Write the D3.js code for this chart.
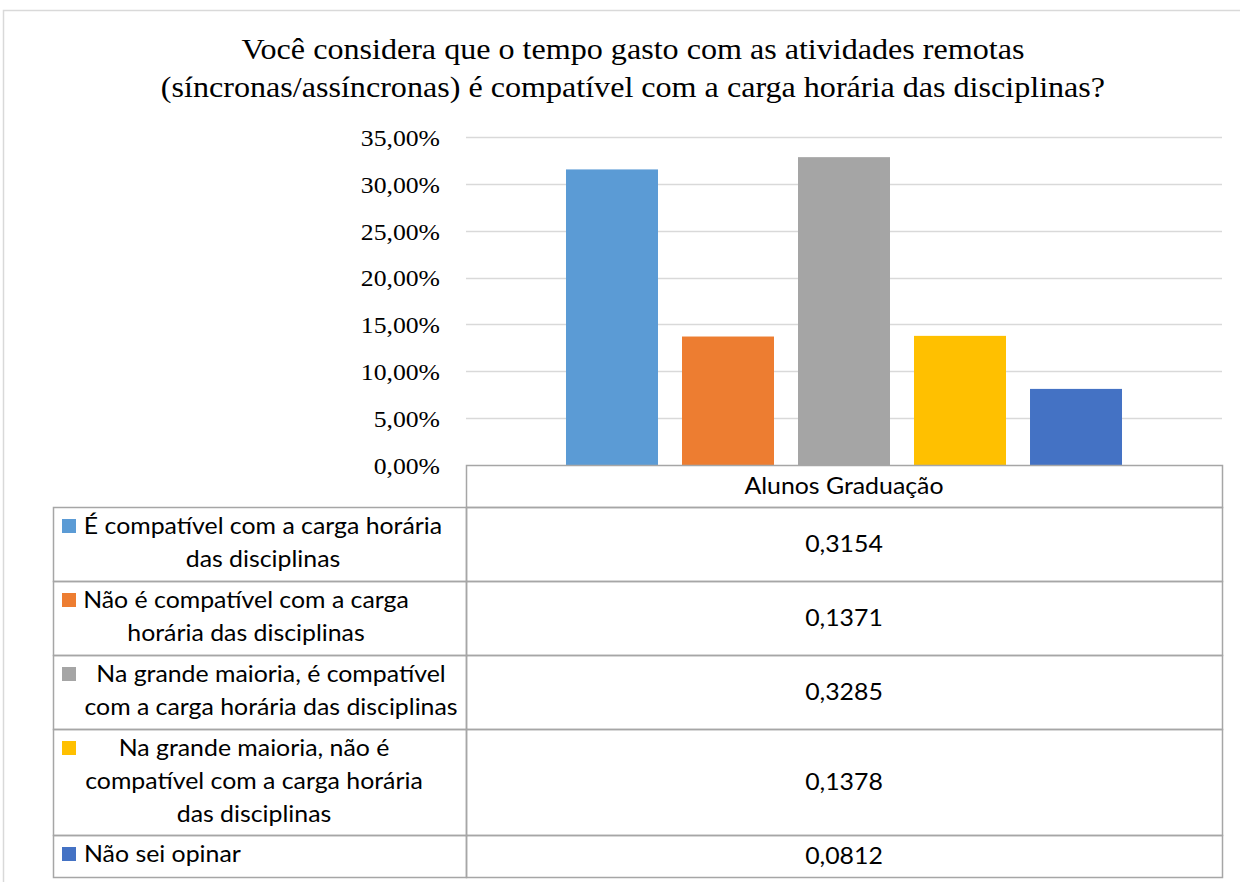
<!DOCTYPE html>
<html><head><meta charset="utf-8">
<script src="https://cdn.jsdelivr.net/npm/d3@7"></script>
<style>html,body{margin:0;padding:0;background:#fff;}</style>
</head><body>
<script>
// ---- data ----
const titleLines = ["Você considera que o tempo gasto com as atividades remotas",
                    "(síncronas/assíncronas) é compatível com a carga horária das disciplinas?"];
const seriesGroup = "Alunos Graduação";
const categories = [
  "É compatível com a carga horária das disciplinas",
  "Não é compatível com a carga horária das disciplinas",
  "Na grande maioria, é compatível com a carga horária das disciplinas",
  "Na grande maioria, não é compatível com a carga horária das disciplinas",
  "Não sei opinar"
];
const categoryLines = [
  ["É compatível com a carga horária", "das disciplinas"],
  ["Não é compatível com a carga", "horária das disciplinas"],
  ["Na grande maioria, é compatível", "com a carga horária das disciplinas"],
  ["Na grande maioria, não é", "compatível com a carga horária", "das disciplinas"],
  ["Não sei opinar"]
];
const values = [0.3154, 0.1371, 0.3285, 0.1378, 0.0812];
const valueLabels = ["0,3154", "0,1371", "0,3285", "0,1378", "0,0812"];
const yTicks = [0, 0.05, 0.10, 0.15, 0.20, 0.25, 0.30, 0.35];
const colors = ["#5B9BD5", "#ED7D31", "#A5A5A5", "#FFC000", "#4472C4"];

// ---- layout ----
const W = 1240, H = 882;
const plotL = 466, plotR = 1222, plotT = 137, plotB = 465;
const legL = 53;
const headerH = 42;
const lineCenters = [263, 246, 271, 254, null];
const stretchK = 1.08;

function stretch(sel, k) {
  sel.each(function() {
    const L = this.getComputedTextLength();
    this.setAttribute("textLength", L * k);
    this.setAttribute("lengthAdjust", "spacingAndGlyphs");
  });
}

const svg = d3.select("body").append("svg").attr("width", W).attr("height", H);

svg.append("rect").attr("x", 3.5).attr("y", 10.5).attr("width", 1300).attr("height", 1000)
  .attr("fill", "none").attr("stroke", "#D9D9D9").attr("stroke-width", 1.5);

const serif = "'Liberation Serif', 'Times New Roman', serif";
const sans = "Lato, 'Noto Sans', sans-serif";

svg.selectAll("text.title").data(titleLines).join("text")
  .attr("class", "title")
  .attr("x", 633).attr("y", (d, i) => 59 + i * 38)
  .attr("text-anchor", "middle")
  .attr("font-family", serif).attr("font-size", 30).attr("fill", "#000")
  .text(d => d)
  .call(stretch, 1.07);

const x = d3.scaleBand().domain(categories).range([plotL, plotR]).paddingInner(0.207).paddingOuter(0.862);
const y = d3.scaleLinear().domain([0, 0.35]).range([plotB, plotT]);

// gridlines
svg.append("g").selectAll("line").data(yTicks.filter(t => t > 0)).join("line")
  .attr("x1", plotL).attr("x2", plotR)
  .attr("y1", d => Math.round(y(d)) + 0.5).attr("y2", d => Math.round(y(d)) + 0.5)
  .attr("stroke", "#D9D9D9").attr("stroke-width", 1.5);

// y axis
const fmt = v => (v * 100).toFixed(2).replace(".", ",") + "%";
const yAxis = d3.axisLeft(y).tickValues(yTicks).tickFormat(fmt).tickSize(0).tickPadding(0);
const gy = svg.append("g").attr("transform", `translate(${440},0)`).call(yAxis);
gy.select(".domain").remove();
gy.selectAll("text").attr("font-family", serif).attr("font-size", 24).attr("fill", "#000").attr("dy", "0.35em")
  .call(stretch, 1.07);

// bars
svg.append("g").selectAll("rect").data(values).join("rect")
  .attr("x", (d, i) => x(categories[i]))
  .attr("width", x.bandwidth())
  .attr("y", d => y(d))
  .attr("height", d => y(0) - y(d))
  .attr("fill", (d, i) => colors[i]);

// table
const rowHeights = categoryLines.map(l => 10 + l.length * 32);
const rowTops = [];
let acc = plotB + headerH;
rowHeights.forEach(h => { rowTops.push(acc); acc += h; });
const border = "#A6A6A6";
const fs = 23;
const t = svg.append("g");
t.append("rect").attr("x", plotL + 0.5).attr("y", plotB + 0.5).attr("width", plotR - plotL).attr("height", headerH)
  .attr("fill", "none").attr("stroke", border).attr("stroke-width", 1.5);
t.append("text").attr("x", (plotL + plotR) / 2).attr("y", plotB + headerH / 2).attr("dy", "0.35em")
  .attr("text-anchor", "middle").attr("font-family", sans).attr("font-size", fs).attr("fill", "#000")
  .text(seriesGroup).call(stretch, stretchK);

const rows = t.selectAll("g.row").data(categories).join("g").attr("class", "row");
rows.append("rect").attr("x", legL + 0.5).attr("y", (d, i) => rowTops[i] + 0.5)
  .attr("width", plotL - legL).attr("height", (d, i) => rowHeights[i])
  .attr("fill", "none").attr("stroke", border).attr("stroke-width", 1.5);
rows.append("rect").attr("x", plotL + 0.5).attr("y", (d, i) => rowTops[i] + 0.5)
  .attr("width", plotR - plotL).attr("height", (d, i) => rowHeights[i])
  .attr("fill", "none").attr("stroke", border).attr("stroke-width", 1.5);
rows.append("rect").attr("x", 62).attr("y", (d, i) => rowTops[i] + 12)
  .attr("width", 14).attr("height", 14).attr("fill", (d, i) => colors[i]);
rows.each(function(d, i) {
  const g = d3.select(this);
  const c = lineCenters[i];
  g.selectAll("text.lbl").data(categoryLines[i]).join("text").attr("class", "lbl")
    .attr("x", c == null ? 84 : c)
    .attr("y", (l, j) => rowTops[i] + 27 + j * 33)
    .attr("text-anchor", c == null ? "start" : "middle")
    .attr("font-family", sans).attr("font-size", fs).attr("fill", "#000")
    .text(l => l).call(stretch, stretchK);
});
rows.append("text").attr("x", (plotL + plotR) / 2).attr("y", (d, i) => rowTops[i] + rowHeights[i] / 2)
  .attr("dy", "0.35em").attr("text-anchor", "middle")
  .attr("font-family", sans).attr("font-size", fs).attr("fill", "#000")
  .text((d, i) => valueLabels[i]).call(stretch, stretchK);
</script>
</body></html>
